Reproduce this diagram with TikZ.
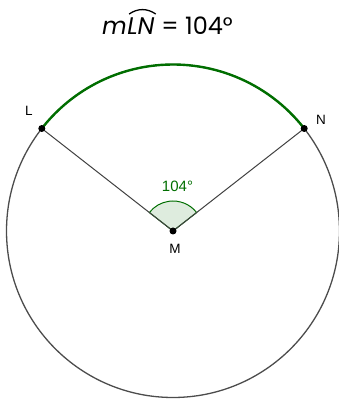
\documentclass[tikz,border=0pt]{standalone}
\usepackage{fontspec}
\usetikzlibrary{calc}
\setmainfont{Liberation Sans}
\newfontfamily\titlefont{Poppins}
\definecolor{arcgreen}{RGB}{0,110,0}
\definecolor{sectfill}{RGB}{222,236,222}
\definecolor{radgray}{RGB}{64,64,64}
\begin{document}
\begin{tikzpicture}[x=1pt,y=1pt,
  titletxt/.style={inner sep=0pt, font=\titlefont\fontsize{24}{28}\selectfont},
  ptlabel/.style={inner sep=0pt, font=\fontsize{13.5}{15}\selectfont},
  dotpt/.style={circle, fill=black, inner sep=0pt, minimum size=7pt},
  radius line/.style={radgray, line width=1pt},
  circ/.style={black!70, line width=1.3pt},
  majarc/.style={arcgreen, line width=2.4pt}]
\useasboundingbox (0,0) rectangle (339,400);
\coordinate (M) at (173,169);
\coordinate (L) at ($(M)+(142:166.5)$);
\coordinate (N) at ($(M)+(38:166.5)$);
% circle
\draw[circ] (M) circle[radius=166.5];
% major arc
\draw[majarc] (N) arc[start angle=38, end angle=142, radius=166.5];
% sector
\filldraw[fill=sectfill, draw=arcgreen, line width=1pt] (M) -- ($(M)+(38:30)$) arc[start angle=38, end angle=142, radius=30] -- cycle;
% radii
\draw[radius line] (M) -- (L);
\draw[radius line] (M) -- (N);
% points
\node[dotpt] (pL) at (L) {};
\node[dotpt] (pN) at (N) {};
\node[dotpt] (pM) at (M) {};
\node[ptlabel] (lL) at (29,289) {L};
\node[ptlabel] (lN) at (321,280) {N};
\node[ptlabel] (lM) at (175,151) {M};
\node[ptlabel, text=arcgreen, font=\fontsize{15}{17}\selectfont] (ang) at (177.5,214) {104°};
% title
\node[titletxt, anchor=base west] (tm) at (102,365) {\itshape m};
\node[titletxt, anchor=base west] (tln) at (tm.base east) {\itshape LN};
\node[titletxt, anchor=base west] (teq) at (tln.base east) {\ = 104°};
\draw[line width=1.3pt] ([xshift=2pt,yshift=4pt]tln.north west) to[out=35,in=145] ([xshift=1pt,yshift=4pt]tln.north east);
\end{tikzpicture}
\end{document}
